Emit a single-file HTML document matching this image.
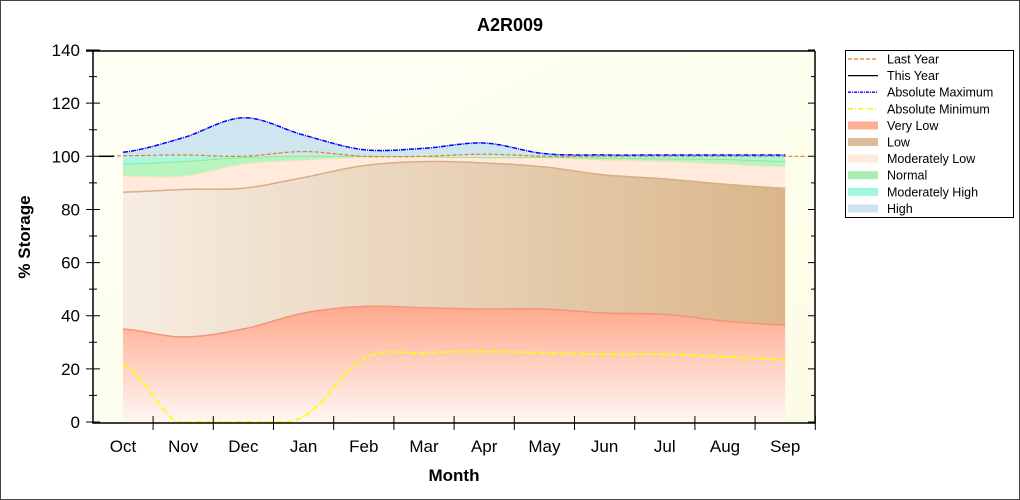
<!DOCTYPE html>
<html><head><meta charset="utf-8"><style>
body{margin:0;background:#fff;}
svg{display:block;font-family:"Liberation Sans",Arial,sans-serif;}
</style></head><body>
<svg id="s" width="1020" height="500" viewBox="0 0 1020 500" xmlns="http://www.w3.org/2000/svg">
<defs>
<linearGradient id="bg" x1="0" y1="0" x2="1" y2="1"><stop offset="0" stop-color="#fffff6"/><stop offset="1" stop-color="#fcfce6"/></linearGradient>
<linearGradient id="vl" x1="0" y1="0" x2="0" y2="1"><stop offset="0" stop-color="#ffa98c"/><stop offset="1" stop-color="#fff6f3"/></linearGradient>
<linearGradient id="lo" x1="0" y1="0" x2="1" y2="0"><stop offset="0" stop-color="#f6ede2"/><stop offset="1" stop-color="#dab68a"/></linearGradient>
</defs>
<rect x="0.5" y="0.5" width="1019" height="499" fill="#fff" stroke="#444"/>
<rect x="93" y="51" width="722" height="372" fill="url(#bg)"/>
<g id="g"></g>
<text x="510" y="31" text-anchor="middle" font-size="18" font-weight="bold">A2R009</text>
<text x="454" y="481" text-anchor="middle" font-size="17" font-weight="bold">Month</text>
<text transform="translate(30,237) rotate(-90)" text-anchor="middle" font-size="17" font-weight="bold">% Storage</text>
<g id="ax" font-size="17"></g>
<rect x="845.5" y="50.5" width="168" height="167" fill="#fff" stroke="#000"/>
<g font-size="12.5" id="lg"></g>
</svg>
<script>
const X=m=>123+m*60.2, Y=v=>422-v*2.657;
const vl=[35,32,35,41,43.5,43,42.5,42.5,41,40.5,38,36.5];
const lo=[86.5,87.5,88,92,96.5,98,97.5,96,93,91.5,89.5,88];
const ml=[92.5,92.5,97,98.5,99.5,100,100,99.5,98.5,98,97,96];
const no=[97,98,99.5,100,100,99.8,99.5,99.5,99.3,99,98.8,98];
const mh=[99.5,100,100,100,100,100,100,100,100,100,100,100];
const hi=[101.5,107,114.5,108,102.5,103,105,101,100.5,100.5,100.5,100.5];
const mn=[22,-2,0,2,24,26,26.5,26,25.5,25.5,24.5,23.5];
const ly=[100.2,100.5,100,101.8,100,100,100.8,100,100,100,100,100];
function pts(a){const p=[];for(let i=0;i<a.length-1;i++){for(let t=0;t<1;t+=0.05){const p0=a[Math.max(i-1,0)],p1=a[i],p2=a[i+1],p3=a[Math.min(i+2,a.length-1)];const v=0.5*((2*p1)+(-p0+p2)*t+(2*p0-5*p1+4*p2-p3)*t*t+(-p0+3*p1-3*p2+p3)*t*t*t);p.push([X(i+t),Y(Math.max(v,0))]);}}p.push([X(a.length-1),Y(a[a.length-1])]);return p;}
const L=p=>p.map((q,i)=>(i?'L':'M')+q[0].toFixed(1)+' '+q[1].toFixed(1)).join('');
function band(a,b,fill){const pa=pts(a),pb=b?pts(b).reverse():[[X(11),Y(0)],[X(0),Y(0)]];return `<path d="${L(pa)}${L(pb).replace('M','L')}Z" fill="${fill}"/>`;}
let h='';
h+=band(hi,mh,'#cde6ef');h+=band(mh,no,'#a8f7df');h+=band(no,ml,'#b8f4be');h+=band(ml,lo,'#ffeadb');h+=band(lo,vl,'url(#lo)');h+=band(vl,null,'url(#vl)');
h+=`<path d="${L(pts(vl))}" fill="none" stroke="#f4957a" stroke-width="1.5"/>`;
h+=`<path d="${L(pts(lo))}" fill="none" stroke="#d8ae85" stroke-width="1.5"/>`;
h+=`<path d="${L(pts(ml))}" fill="none" stroke="#fde0c8" stroke-width="1"/>`;
h+=`<path d="${L(pts(no))}" fill="none" stroke="#8de89a" stroke-width="1"/>`;
h+=`<path d="M99 ${Y(100)}L123 ${Y(100.2)}${L(pts(ly)).replace('M','L')}L807 ${Y(100)}" fill="none" stroke="#d9822b" stroke-width="1.2" stroke-dasharray="4,2"/>`;
h+=`<path d="${L(pts(hi))}" fill="none" stroke="#0000ff" stroke-width="1.5" stroke-dasharray="5,1,1,1"/>`;
h+=`<path d="${L(pts(mn))}" fill="none" stroke="#ffff00" stroke-width="2" stroke-dasharray="5,2,1,2"/>`;
h+=`<path d="M99 ${Y(100)}H114" stroke="#000" stroke-width="1.5"/>`;
document.getElementById('g').innerHTML=h;
let a=`<path d="M93 51V423H815V51M86 51H815" fill="none" stroke="#000" stroke-width="1.5"/>`;
for(let v=0;v<=140;v+=10){const y=Y(v);if(v%20==0){a+=`<path d="M86 ${y}H100M808 ${y}H815" stroke="#000"/><text x="80" y="${y+6}" text-anchor="end">${v}</text>`;}else a+=`<path d="M89 ${y}H97M811 ${y}H815" stroke="#000"/>`;}
const ms=['Oct','Nov','Dec','Jan','Feb','Mar','Apr','May','Jun','Jul','Aug','Sep'];
ms.forEach((m,i)=>{a+=`<text x="${X(i)}" y="452" text-anchor="middle">${m}</text>`;a+=`<path d="M${X(i)+30.1} 416V430" stroke="#000"/>`;});
document.getElementById('ax').innerHTML=a;
const lg=[['Last Year','l','#d9822b','4,2'],['This Year','l','#000',''],['Absolute Maximum','l','#00f','3,1,1,1'],['Absolute Minimum','l','#ee0','5,2,1,2'],['Very Low','b','#ffae96'],['Low','b','#dcbc98'],['Moderately Low','b','#ffeadb'],['Normal','b','#a8eeb0'],['Moderately High','b','#a0f8dc'],['High','b','#cde4f0']];
let g='';lg.forEach((e,i)=>{const y=59+i*16.6;if(e[1]=='l')g+=`<path d="M848 ${y}H878" stroke="${e[2]}" stroke-width="1.3" stroke-dasharray="${e[3]}"/>`;else g+=`<rect x="848" y="${y-4}" width="30" height="8" fill="${e[2]}"/>`;g+=`<text x="887" y="${y+4.5}">${e[0]}</text>`;});
document.getElementById('lg').innerHTML=g;
</script>
</body></html>
